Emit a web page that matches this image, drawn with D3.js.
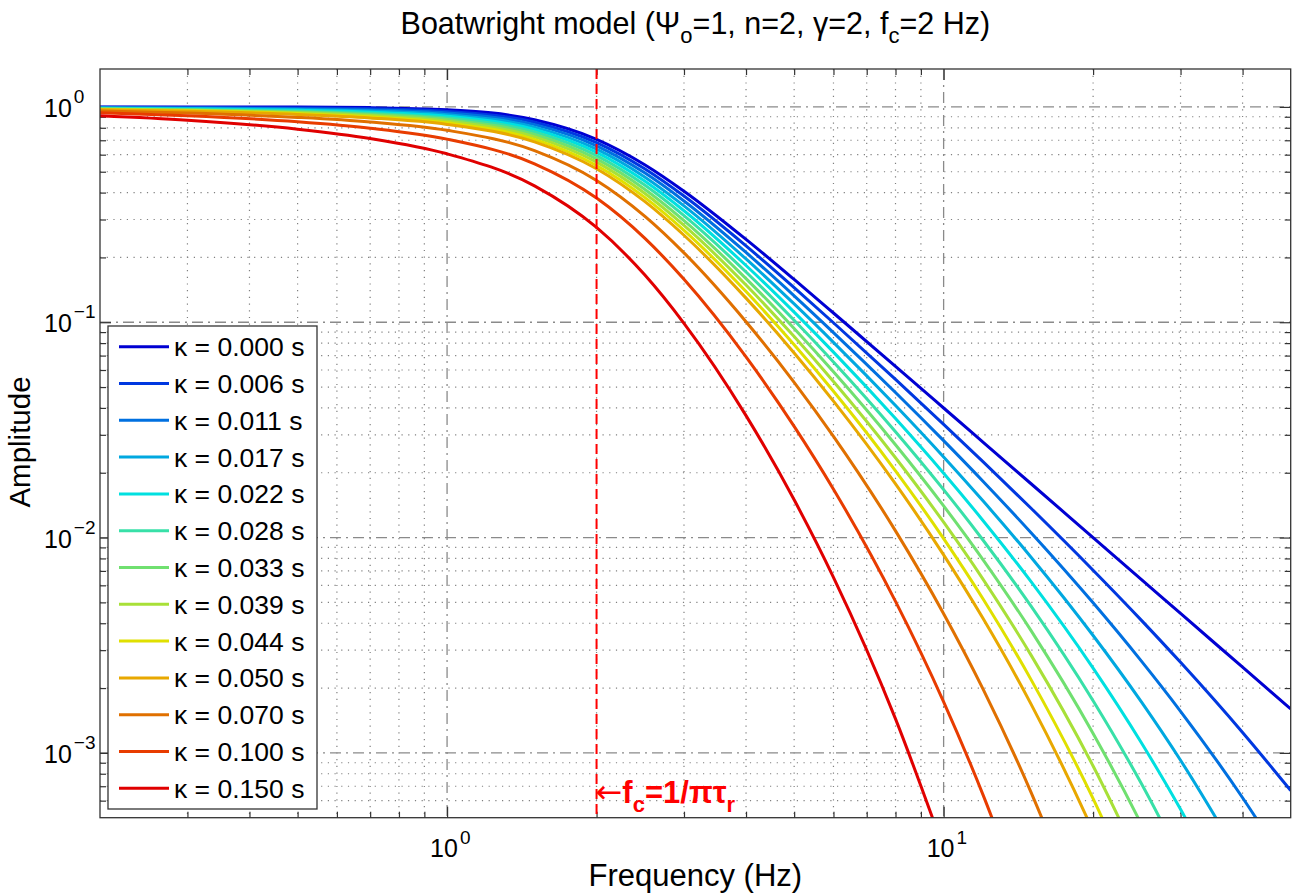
<!DOCTYPE html>
<html><head><meta charset="utf-8">
<script src="https://cdn.jsdelivr.net/npm/d3@7"></script>
<style>
body{margin:0;background:#fff;}
text{font-family:"Liberation Sans",Arial,Helvetica,sans-serif;fill:#000;}
</style>
</head><body>
<svg id="chart" width="1293" height="894"></svg>
<script>
// ---------- data ----------
const freqs = [0.2,0.3,0.5,0.7,1,1.5,2,2.5,3,4,5,6,8,10,12,15,20,25,30,40,50];
const kappaLabels = ["0.000","0.006","0.011","0.017","0.022","0.028","0.033","0.039","0.044","0.050","0.070","0.100","0.150"];
const amp000 = [1.000,0.9997,0.9981,0.9926,0.9701,0.8716,0.7071,0.5391,0.4061,0.2425,0.1580,0.1104,0.06238,0.03997,0.02777,0.01778,0.01000,0.00640,0.00444,0.00250,0.00160];
const amp006 = [0.9965,0.9945,0.9893,0.9806,0.9533,0.8491,0.6829,0.5161,0.3854,0.2262,0.1448,0.09945,0.05425,0.03357,0.02252,0.01368,0.007053,0.004137,0.002633,0.001244,0.000669];
const amp011 = [0.9930,0.9893,0.9808,0.9686,0.9369,0.8271,0.6594,0.4940,0.3658,0.2109,0.1327,0.08956,0.04718,0.02819,0.01827,0.01053,0.004975,0.002674,0.001560,0.000619,0.000279];
const amp017 = [0.9895,0.9842,0.9723,0.9569,0.9207,0.8057,0.6368,0.4729,0.3471,0.1967,0.1216,0.08066,0.04103,0.02368,0.01481,0.008104,0.003509,0.001729,0.000924,0.000308];
const amp022 = [0.9861,0.9790,0.9638,0.9452,0.9047,0.7849,0.6150,0.4527,0.3294,0.1834,0.1114,0.07264,0.03568,0.01989,0.01201,0.006238,0.002475,0.001117,0.000547,0.000153];
const amp028 = [0.9827,0.9739,0.9554,0.9338,0.8891,0.7646,0.5939,0.4334,0.3126,0.1711,0.1021,0.06542,0.03103,0.01670,0.009744,0.004801,0.001746,0.000722,0.000324];
const amp033 = [0.9792,0.9688,0.9471,0.9224,0.8737,0.7449,0.5735,0.4149,0.2966,0.1595,0.09359,0.05891,0.02699,0.01403,0.007903,0.003695,0.001231,0.000467,0.000192];
const amp039 = [0.9758,0.9638,0.9389,0.9112,0.8586,0.7256,0.5538,0.3972,0.2815,0.1488,0.08577,0.05306,0.02347,0.01178,0.006409,0.002844,0.000869,0.000302];
const amp044 = [0.9724,0.9587,0.9308,0.9002,0.8437,0.7069,0.5348,0.3802,0.2672,0.1388,0.07860,0.04778,0.02041,0.009893,0.005198,0.002189,0.000613,0.000195];
const amp050 = [0.9690,0.9537,0.9227,0.8892,0.8291,0.6886,0.5165,0.3640,0.2535,0.1294,0.07203,0.04303,0.01775,0.008309,0.004216,0.001685,0.000432,0.000126];
const amp070 = [0.9569,0.9359,0.8941,0.8510,0.7786,0.6267,0.4555,0.3111,0.2100,0.1006,0.05261,0.02952,0.01074,0.004432,0.001984,0.000656,0.000123];
const amp100 = [0.9391,0.9098,0.8530,0.7966,0.7086,0.5441,0.3772,0.2458,0.1583,0.06903,0.03284,0.01677,0.005053,0.001727,0.000640,0.000160];
const amp150 = [0.9100,0.8680,0.7885,0.7137,0.6056,0.4299,0.2755,0.1660,0.09879,0.03683,0.01497,0.006534,0.001438,0.000359];
const seriesValues = [amp000,amp006,amp011,amp017,amp022,amp028,amp033,amp039,amp044,amp050,amp070,amp100,amp150];
const seriesColors = ["#0000d2","#0038e0","#0070e0","#00a8e0","#00e0e0","#38e0a8","#70e070","#a8e038","#e0e000","#e8a800","#e07000","#e83c00","#e00000"];
const xMajorTicks = [1,10];
const xTickExps = ["0","1"];
const yMajorTicks = [1e-3,1e-2,1e-1,1];
const yTickExps = ["\u22123","\u22122","\u22121","0"];
const xMinorTicks = [0.3,0.4,0.5,0.6,0.7,0.8,0.9,2,3,4,5,6,7,8,9,20,30,40];
const yMinorTicks = [6e-4,7e-4,8e-4,9e-4,2e-3,3e-3,4e-3,5e-3,6e-3,7e-3,8e-3,9e-3,2e-2,3e-2,4e-2,5e-2,6e-2,7e-2,8e-2,9e-2,0.2,0.3,0.4,0.5,0.6,0.7,0.8,0.9];
const cornerFreq = 2;

// ---------- layout ----------
const L=100, T=69, R=1290.7, B=817.7;
const svg = d3.select("#chart");
const x = d3.scaleLog().domain([0.2,50]).range([L,R]);
const y = d3.scaleLog().domain([5e-4,1.5]).range([B,T]);

// grid
const grid = svg.append("g");
grid.selectAll("line.xmin").data(xMinorTicks).join("line")
  .attr("x1",d=>x(d)).attr("x2",d=>x(d)).attr("y1",T).attr("y2",B)
  .attr("stroke","#808080").attr("stroke-width",1.2).attr("stroke-dasharray","1.2,5.5");
grid.selectAll("line.ymin").data(yMinorTicks).join("line")
  .attr("y1",d=>y(d)).attr("y2",d=>y(d)).attr("x1",L).attr("x2",R)
  .attr("stroke","#808080").attr("stroke-width",1.2).attr("stroke-dasharray","1.2,5.5");
grid.selectAll("line.xmaj").data(xMajorTicks).join("line")
  .attr("x1",d=>x(d)).attr("x2",d=>x(d)).attr("y1",T).attr("y2",B)
  .attr("stroke","#8a8a8a").attr("stroke-width",1.3).attr("stroke-dasharray","11,5,2,5");
grid.selectAll("line.ymaj").data(yMajorTicks).join("line")
  .attr("y1",d=>y(d)).attr("y2",d=>y(d)).attr("x1",L).attr("x2",R)
  .attr("stroke","#8a8a8a").attr("stroke-width",1.3).attr("stroke-dasharray","11,5,2,5");

// axes (ticks inside, box)
function styleAxis(g){ g.select(".domain").remove(); g.selectAll(".tick line").attr("stroke","#333").attr("stroke-width",1.2); }
svg.append("g").attr("transform",`translate(0,${B})`).call(d3.axisBottom(x).tickValues(xMajorTicks).tickSize(-11).tickFormat("")).call(styleAxis);
svg.append("g").attr("transform",`translate(0,${B})`).call(d3.axisBottom(x).tickValues(xMinorTicks).tickSize(-6).tickFormat("")).call(styleAxis);
svg.append("g").attr("transform",`translate(0,${T})`).call(d3.axisTop(x).tickValues(xMajorTicks).tickSize(-11).tickFormat("")).call(styleAxis);
svg.append("g").attr("transform",`translate(0,${T})`).call(d3.axisTop(x).tickValues(xMinorTicks).tickSize(-6).tickFormat("")).call(styleAxis);
svg.append("g").attr("transform",`translate(${L},0)`).call(d3.axisLeft(y).tickValues(yMajorTicks).tickSize(-11).tickFormat("")).call(styleAxis);
svg.append("g").attr("transform",`translate(${L},0)`).call(d3.axisLeft(y).tickValues(yMinorTicks).tickSize(-6).tickFormat("")).call(styleAxis);
svg.append("g").attr("transform",`translate(${R},0)`).call(d3.axisRight(y).tickValues(yMajorTicks).tickSize(-11).tickFormat("")).call(styleAxis);
svg.append("g").attr("transform",`translate(${R},0)`).call(d3.axisRight(y).tickValues(yMinorTicks).tickSize(-6).tickFormat("")).call(styleAxis);

// tick labels
const xt = svg.selectAll("text.xt").data(xMajorTicks).join("text").attr("class","xt")
  .attr("x",d=>x(d)-17).attr("y",857).attr("text-anchor","start").attr("font-size",25);
xt.append("tspan").text("10");
xt.append("tspan").attr("dx",2).attr("dy",-13).attr("font-size",19).text((d,i)=>xTickExps[i]);
const yt = svg.selectAll("text.yt").data(yMajorTicks).join("text").attr("class","yt")
  .attr("x",44).attr("y",d=>y(d)+10).attr("text-anchor","start").attr("font-size",25);
yt.append("tspan").text("10");
yt.append("tspan").attr("dx",2).attr("dy",-14).attr("font-size",19).text((d,i)=>yTickExps[i]);

// curves
svg.append("clipPath").attr("id","clip").append("rect").attr("x",L).attr("y",T).attr("width",R-L).attr("height",B-T);
const line = d3.line().x(d=>x(d[0])).y(d=>y(d[1])).curve(d3.curveMonotoneX);
const curves = svg.append("g").attr("clip-path","url(#clip)");
seriesValues.forEach((vals,i)=>{
  const pts = vals.map((v,j)=>[freqs[j],v]);
  curves.append("path").attr("d",line(pts)).attr("fill","none")
    .attr("stroke",seriesColors[i]).attr("stroke-width",3).attr("stroke-linejoin","round");
});

// corner frequency line
svg.append("line").attr("x1",x(cornerFreq)).attr("x2",x(cornerFreq)).attr("y1",T).attr("y2",B)
  .attr("stroke","#ff0000").attr("stroke-width",2).attr("stroke-dasharray","10,5");
const ann = svg.append("text").attr("x",x(cornerFreq)-1).attr("y",803).attr("font-size",31).attr("font-weight","bold").style("fill","#ff0000");
ann.append("tspan").attr("font-weight","normal").style("font-family","'DejaVu Sans'").attr("font-size",32).text("\u2190");
ann.append("tspan").text("f");
ann.append("tspan").attr("dy",9).attr("font-size",22).text("c");
ann.append("tspan").attr("dy",-9).text("=1/\u03C0\u03C4");
ann.append("tspan").attr("dy",9).attr("font-size",22).text("r");

// box
svg.append("rect").attr("x",L).attr("y",T).attr("width",R-L).attr("height",B-T).attr("fill","none").attr("stroke","#333").attr("stroke-width",1.3);

// legend
const lg = svg.append("g");
lg.append("rect").attr("x",108).attr("y",326).attr("width",209).attr("height",483).attr("fill","#fff").attr("stroke","#333").attr("stroke-width",1.3);
kappaLabels.forEach((k,i)=>{
  const cy = 346.7 + i*36.8;
  lg.append("line").attr("x1",119).attr("x2",169).attr("y1",cy).attr("y2",cy).attr("stroke",seriesColors[i]).attr("stroke-width",3);
  lg.append("text").attr("x",174).attr("y",cy+9.5).attr("font-size",26.5).text("\u03BA = "+k+" s");
});

// titles
const title = svg.append("text").attr("x",(L+R)/2).attr("y",34).attr("text-anchor","middle").attr("font-size",30.5);
title.append("tspan").text("Boatwright model (\u03A8");
title.append("tspan").attr("dy",9).attr("font-size",22).text("o");
title.append("tspan").attr("dy",-9).text("=1, n=2, \u03B3=2, f");
title.append("tspan").attr("dy",9).attr("font-size",22).text("c");
title.append("tspan").attr("dy",-9).text("=2 Hz)");
svg.append("text").attr("x",(L+R)/2).attr("y",886).attr("text-anchor","middle").attr("font-size",31).text("Frequency (Hz)");
svg.append("text").attr("transform","translate(30,442) rotate(-90)").attr("text-anchor","middle").attr("font-size",29.5).text("Amplitude");
</script>
</body></html>
